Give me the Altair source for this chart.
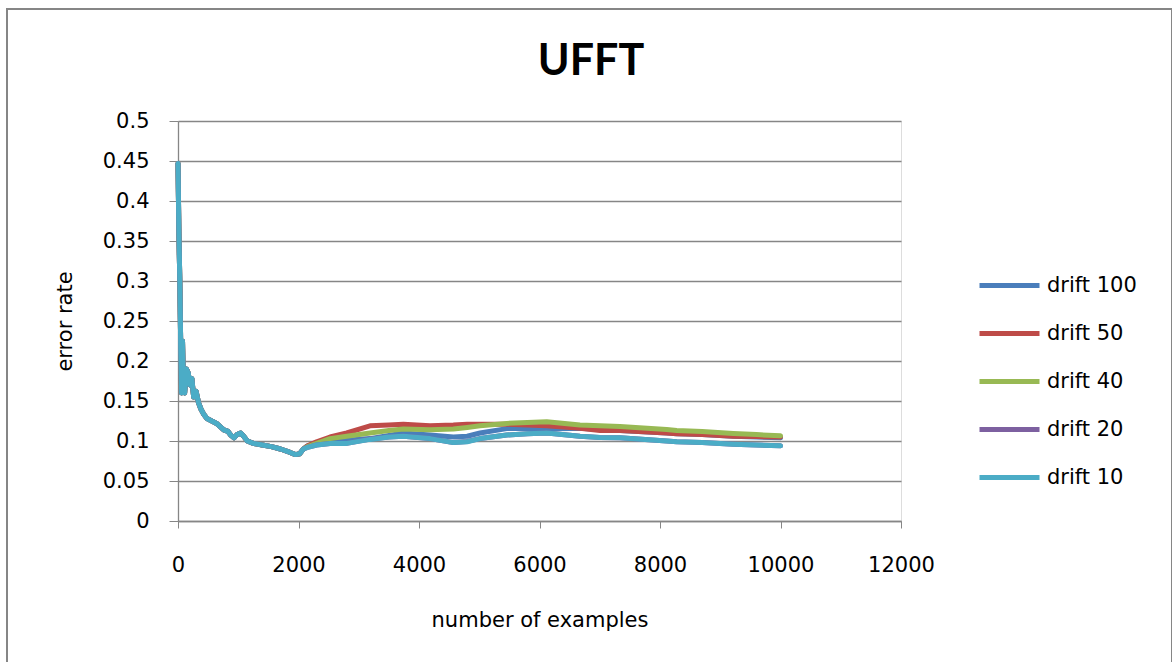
import altair as alt
import pandas as pd

# Error-rate curves of UFFT under different drift settings
series_names = ["drift 100", "drift 50", "drift 40", "drift 20", "drift 10"]
series_colors = ["#4a7ebb", "#be4b48", "#98b954", "#7d60a0", "#4bacc6"]

# warm-up phase, identical for every drift setting
early_x = [0, 15, 30, 45, 60, 75, 90, 110, 140, 170, 200, 230, 260, 300, 340,
           380, 430, 480, 560, 640, 700, 760, 830, 880, 930, 980, 1040, 1090,
           1150, 1250, 1400, 1550, 1700, 1850, 1950, 2020, 2080]
early_err = [0.447, 0.36, 0.30, 0.22, 0.16, 0.225, 0.17, 0.16, 0.19, 0.185,
             0.17, 0.178, 0.155, 0.162, 0.148, 0.14, 0.133, 0.128, 0.125,
             0.122, 0.118, 0.114, 0.112, 0.107, 0.104, 0.108, 0.11, 0.106,
             0.10, 0.097, 0.095, 0.093, 0.09, 0.086, 0.083, 0.084, 0.09]

# after the drift starts the runs separate
late_x = [2150, 2300, 2523, 2800, 3187, 3500, 3740, 4183, 4570, 4800, 5013,
          5455, 5800, 6120, 6672, 7004, 7336, 8111, 8277, 8700, 9217, 9600,
          10000]
drift_100 = [0.094, 0.097, 0.101, 0.101, 0.103, 0.107, 0.110, 0.1075, 0.105,
             0.106, 0.110, 0.1155, 0.116, 0.115, 0.116, 0.1145, 0.113, 0.110,
             0.109, 0.108, 0.106, 0.105, 0.104]
drift_50 = [0.094, 0.099, 0.105, 0.110, 0.119, 0.120, 0.121, 0.119, 0.120,
            0.121, 0.121, 0.121, 0.120, 0.119, 0.116, 0.113, 0.113, 0.110,
            0.109, 0.108, 0.106, 0.1055, 0.105]
drift_40 = [0.093, 0.097, 0.103, 0.106, 0.110, 0.113, 0.115, 0.114, 0.115,
            0.117, 0.119, 0.122, 0.123, 0.124, 0.120, 0.119, 0.118, 0.1145,
            0.113, 0.112, 0.1095, 0.108, 0.1065]
drift_20 = [0.092, 0.095, 0.097, 0.097, 0.1025, 0.105, 0.106, 0.103, 0.098,
            0.0995, 0.103, 0.1075, 0.109, 0.110, 0.106, 0.1045, 0.104, 0.100,
            0.099, 0.098, 0.096, 0.095, 0.094]
drift_10 = [0.092, 0.095, 0.097, 0.097, 0.102, 0.105, 0.106, 0.103, 0.098,
            0.099, 0.103, 0.1075, 0.109, 0.110, 0.106, 0.1045, 0.104, 0.100,
            0.099, 0.098, 0.096, 0.095, 0.094]

x_ticks = [0, 2000, 4000, 6000, 8000, 10000, 12000]
y_ticks = [0, 0.05, 0.1, 0.15, 0.2, 0.25, 0.3, 0.35, 0.4, 0.45, 0.5]
chart_title = "UFFT"

late_values = [drift_100, drift_50, drift_40, drift_20, drift_10]
rows = []
for name, late in zip(series_names, late_values):
    for xv, ev in zip(early_x + late_x, early_err + late):
        rows.append({"series": name, "examples": xv, "error": ev})
df = pd.DataFrame(rows)

GRID = "#868686"
FONT = "DejaVu Sans"

x_enc = alt.X(
    "examples:Q",
    scale=alt.Scale(domain=[0, 12000], nice=False),
    axis=alt.Axis(values=x_ticks, format="d", grid=False, title="number of examples",
                  domainColor=GRID, tickColor=GRID, tickSize=7, domainWidth=1.3,
                  labelFont=FONT, labelFontSize=21, labelColor="black", labelPadding=26,
                  labelFlush=False,
                  titleFont=FONT, titleFontSize=21, titleFontWeight="normal",
                  titleColor="black", titlePadding=34),
)
y_enc = alt.Y(
    "error:Q",
    scale=alt.Scale(domain=[0, 0.5], nice=False),
    axis=alt.Axis(values=y_ticks, format=".2~f", grid=True, gridColor=GRID,
                  gridWidth=1.3, domainColor=GRID, tickColor=GRID, tickSize=9,
                  domainWidth=1.3, labelFont=FONT, labelFontSize=21,
                  labelColor="black", labelPadding=20, labelFlush=False,
                  title="error rate", titleFont=FONT, titleFontSize=21,
                  titleFontWeight="normal", titleColor="black", titlePadding=27),
)
color_enc = alt.Color(
    "series:N",
    scale=alt.Scale(domain=series_names, range=series_colors),
    legend=alt.Legend(orient="none", legendX=799, legendY=132, title=None,
                      symbolType="stroke", symbolSize=3600, symbolStrokeWidth=5,
                      labelFont=FONT, labelFontSize=21, labelColor="black",
                      labelOffset=5, rowPadding=5, padding=0),
)

# outer frame around the whole figure
frame = alt.Chart(alt.Data(values=[{"f": 1}])).mark_rect(
    fill="transparent", stroke=GRID, strokeWidth=2
).encode(x=alt.value(-171), x2=alt.value(994), y=alt.value(-112), y2=alt.value(560))

# chart heading, centred over the figure
heading = alt.Chart(alt.Data(values=[{"t": chart_title}])).mark_text(
    font="Lato", fontSize=43, fontWeight="bold", color="black",
    align="center", baseline="alphabetic"
).encode(text="t:N", x=alt.value(413), y=alt.value(-46))

lines = []
for name in series_names:
    lines.append(
        alt.Chart(df)
        .transform_filter(alt.datum.series == name)
        .mark_line(strokeWidth=5, strokeJoin="round", strokeCap="round")
        .encode(x=x_enc, y=y_enc, color=color_enc)
    )

chart = (
    alt.layer(frame, heading, *lines)
    .properties(
        width=723,
        height=400,
        autosize=alt.AutoSizeParams(type="none"),
        padding={"left": 178, "top": 121, "right": 271, "bottom": 141},
    )
    .configure_view(stroke="transparent")
    .configure(background="white")
)

chart.save("out.html", embed_options={"renderer": "svg", "actions": False})
